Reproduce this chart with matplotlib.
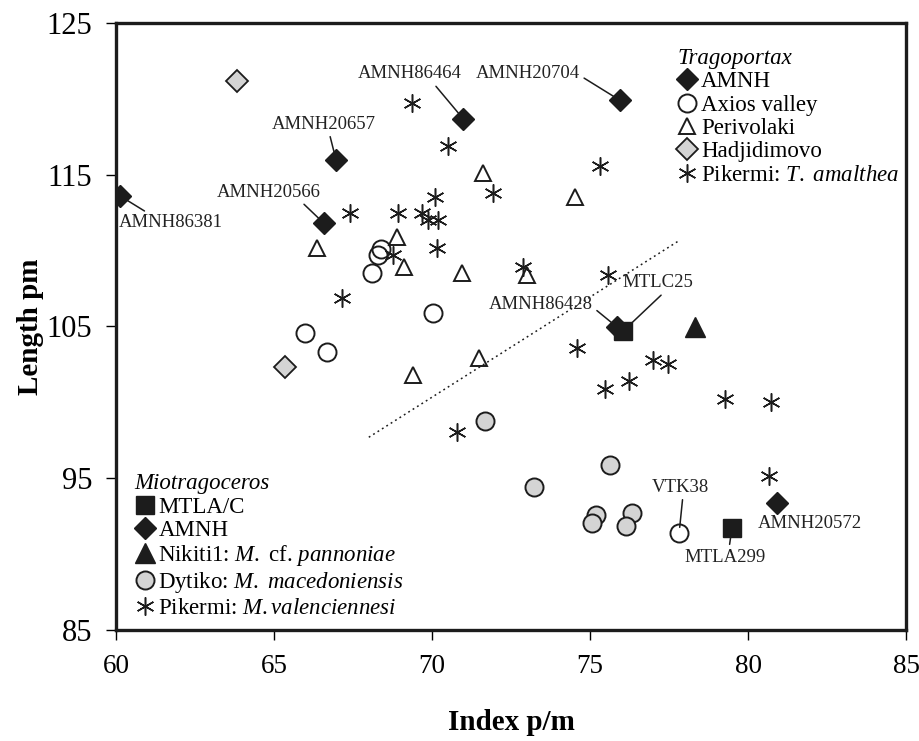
import matplotlib
matplotlib.use("Agg")
import matplotlib.pyplot as plt

plt.rcParams['font.family'] = ['Liberation Serif', 'DejaVu Serif']
plt.rcParams['mathtext.fontset'] = 'custom'
plt.rcParams['mathtext.rm'] = 'Liberation Serif'
plt.rcParams['mathtext.it'] = 'Liberation Serif:italic'

# Tragoportax
trag_amnh_x = [60.13, 66.58, 66.96, 70.98, 75.95, 75.85]
trag_amnh_y = [113.6, 111.8, 116.0, 118.7, 119.9, 104.97]
axios_x = [68.4, 68.3, 68.1, 70.03, 65.98, 66.68, 77.82]
axios_y = [110.1, 109.7, 108.5, 105.9, 104.6, 103.3, 91.4]
periv_x = [66.36, 68.89, 69.11, 70.95, 71.61, 74.53, 73.0, 71.49, 69.40]
periv_y = [110.2, 110.9, 108.9, 108.5, 115.1, 113.5, 108.4, 102.9, 101.8]
hadji_x = [63.83, 65.35]
hadji_y = [121.2, 102.3]
pik_t_x = [69.37, 70.51, 67.41, 68.92, 69.68, 70.10, 69.87, 70.19, 70.16, 68.77,
           67.15, 71.93, 75.32, 72.88, 75.57]
pik_t_y = [119.7, 116.9, 112.5, 112.5, 112.5, 113.5, 112.0, 112.0, 110.2, 109.7,
           106.9, 113.8, 115.6, 108.9, 108.4]

# Miotragoceros
mtla_x = [76.05, 79.49]
mtla_y = [104.7, 91.7]
mio_amnh_x = [80.92]
mio_amnh_y = [93.4]
nikiti_x = [78.32]
nikiti_y = [104.97]
dytiko_x = [71.68, 73.23, 75.63, 75.19, 75.06, 76.33, 76.14]
dytiko_y = [98.8, 94.4, 95.9, 92.6, 92.05, 92.7, 91.85]
pik_m_x = [74.59, 75.47, 76.23, 76.99, 77.47, 79.27, 80.73, 80.66, 70.79]
pik_m_y = [103.6, 100.9, 101.4, 102.8, 102.5, 100.2, 100.0, 95.15, 98.05]

# dotted separation line
sep_x = [68.0, 77.85]
sep_y = [97.7, 110.7]

# labelled specimens: name, point, text position, where the leader leaves the text
labels = [
    ("AMNH86381", (60.13, 113.6), (61.74, 111.82), (0.3, 1.0)),
    ("AMNH20566", (66.58, 111.8), (64.84, 113.86), (0.8, 0.0)),
    ("AMNH20657", (66.96, 116.0), (66.58, 118.34), (0.55, 0.0)),
    ("AMNH86464", (70.98, 118.7), (69.30, 121.64), (0.72, 0.0)),
    ("AMNH20704", (75.95, 119.9), (73.04, 121.64), (1.0, 0.4)),
    ("AMNH86428", (75.85, 104.97), (73.45, 106.48), (1.0, 0.3)),
    ("MTLC25", (76.05, 104.7), (77.15, 107.87), (0.6, 0.0)),
    ("VTK38", (77.82, 91.4), (77.85, 94.42), (0.55, 0.0)),
    ("MTLA299", (79.49, 91.7), (79.27, 89.81), (0.55, 1.0)),
    ("AMNH20572", (80.92, 93.4), (81.96, 92.05), (0.2, 1.0)),
]

BLACK = '#1c1c1c'
GREY = '#d4d4d4'

fig = plt.figure(figsize=(9.19, 7.41), dpi=100)
ax = fig.add_axes([0.1262, 0.1498, 0.8597, 0.8192])

ax.plot(sep_x, sep_y, linestyle=(0, (1.2, 2.2)), color=BLACK, lw=1.1, zorder=1)

h_pik_t, = ax.plot(pik_t_x, pik_t_y, ls='none', marker=(6, 2, 0), ms=13, mew=1.1, color=BLACK)
h_pik_m, = ax.plot(pik_m_x, pik_m_y, ls='none', marker=(6, 2, 0), ms=13, mew=1.1, color=BLACK)
h_axios, = ax.plot(axios_x, axios_y, ls='none', marker='o', ms=13, mfc='none', mec=BLACK, mew=1.4)
h_periv, = ax.plot(periv_x, periv_y, ls='none', marker='^', ms=12, mfc='none', mec=BLACK, mew=1.4)
h_hadji, = ax.plot(hadji_x, hadji_y, ls='none', marker='D', ms=11, mfc=GREY, mec=BLACK, mew=1.3)
h_dyt, = ax.plot(dytiko_x, dytiko_y, ls='none', marker='o', ms=13, mfc=GREY, mec=BLACK, mew=1.4)
h_tamnh, = ax.plot(trag_amnh_x, trag_amnh_y, ls='none', marker='D', ms=11, color=BLACK)
h_mtla, = ax.plot(mtla_x, mtla_y, ls='none', marker='s', ms=13, color=BLACK)
h_mamnh, = ax.plot(mio_amnh_x, mio_amnh_y, ls='none', marker='D', ms=11, color=BLACK)
h_nik, = ax.plot(nikiti_x, nikiti_y, ls='none', marker='^', ms=14, color=BLACK)

for name, pt, txt, rp in labels:
    ax.annotate(name, xy=pt, xytext=txt, ha='center', va='center', fontsize=13.5,
                color='#222222',
                arrowprops=dict(arrowstyle='-', lw=1.1, color=BLACK, shrinkA=1, shrinkB=4,
                                relpos=rp))

ax.set_xlim(60, 85)
ax.set_ylim(85, 125)
ax.set_xticks(range(60, 86, 5))
ax.set_yticks(range(85, 126, 10))
ax.tick_params(direction='out', length=7, width=1, pad=10)
ax.tick_params(axis='x', labelsize=19.5)
ax.tick_params(axis='y', labelsize=22)
for s in ax.spines.values():
    s.set_linewidth(2.4)
    s.set_color(BLACK)

ax.set_xlabel('Index p/m', fontsize=21, fontweight='bold', labelpad=22)
ax.set_ylabel('Length pm', fontsize=21, fontweight='bold', labelpad=2)

leg_kw = dict(frameon=False, fontsize=16.5, handlelength=0.9, handletextpad=0.15,
              labelspacing=0.1, borderpad=0.2, title_fontsize=16.5, alignment='left')

leg1 = ax.legend([h_tamnh, h_axios, h_periv, h_hadji, h_pik_t],
                 ['AMNH', 'Axios valley', 'Perivolaki', 'Hadjidimovo',
                  r'Pikermi: $\mathit{T.}$ $\mathit{amalthea}$'],
                 loc='upper right', bbox_to_anchor=(1.012, 0.985),
                 title='Tragoportax', **leg_kw)
leg1.get_title().set_fontstyle('italic')
ax.add_artist(leg1)

leg2 = ax.legend([h_mtla, h_mamnh, h_nik, h_dyt, h_pik_m],
                 ['MTLA/C', 'AMNH', r'Nikiti1: $\mathit{M.}$ cf. $\mathit{pannoniae}$',
                  r'Dytiko: $\mathit{M.}$ $\mathit{macedoniensis}$',
                  r'Pikermi: $\mathit{M.valenciennesi}$'],
                 loc='lower left', bbox_to_anchor=(0.003, -0.008),
                 title='Miotragoceros', **leg_kw)
leg2.get_title().set_fontstyle('italic')

fig.savefig('out.png', dpi=100)
